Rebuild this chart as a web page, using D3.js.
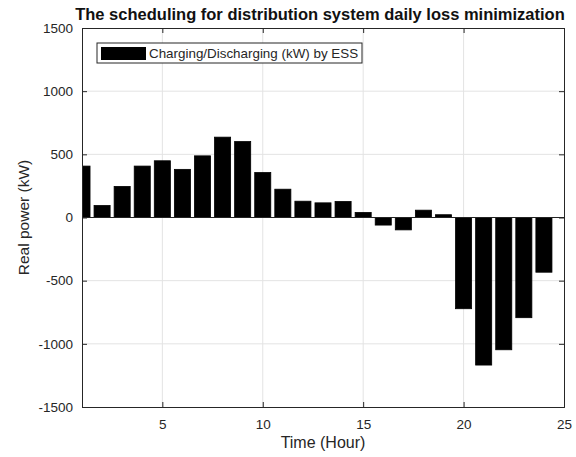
<!DOCTYPE html>
<html>
<head>
<meta charset="utf-8">
<script src="https://cdn.jsdelivr.net/npm/d3@7"></script>
<style>
  body { margin: 0; background: #fff; }
  text { font-family: "Liberation Sans", Arial, sans-serif; }
</style>
</head>
<body>
<script>
// hourly ESS schedule (kW)
var hours = d3.range(1, 25);
var power = [407, 95, 246, 407, 449, 381, 488, 636, 601, 356, 224, 129,
             116, 127, 40, -60, -98, 58, 22, -722, -1168, -1047, -793, -433];
var xTicks = [5, 10, 15, 20, 25];
var yTicks = [-1500, -1000, -500, 0, 500, 1000, 1500];

var w = 576, h = 457;
var margin = {left: 82, right: 12, top: 28, bottom: 50};

var svg = d3.select("body").append("svg")
    .attr("width", w)
    .attr("height", h);

var x = d3.scaleLinear().domain([1, 25]).range([margin.left, w - margin.right]);
var y = d3.scaleLinear().domain([-1500, 1500]).range([h - margin.bottom, margin.top]);

// clip so the first bar is cut at the left edge
svg.append("clipPath").attr("id", "plotClip")
    .append("rect")
    .attr("x", x(1)).attr("y", y(1500))
    .attr("width", x(25) - x(1)).attr("height", y(-1500) - y(1500));

// grid
var grid = svg.append("g").attr("class", "grid");
grid.selectAll(".vgrid").data(xTicks.slice(0, -1)).enter().append("line")
    .attr("x1", function(d){ return x(d); })
    .attr("x2", function(d){ return x(d); })
    .attr("y1", y(1500)).attr("y2", y(-1500))
    .style("stroke", "#e3e3e3");
grid.selectAll(".hgrid").data(yTicks.slice(1, -1)).enter().append("line")
    .attr("y1", function(d){ return y(d); })
    .attr("y2", function(d){ return y(d); })
    .attr("x1", x(1)).attr("x2", x(25))
    .style("stroke", "#e3e3e3");

// bars
var barW = 0.8;
svg.append("g").attr("clip-path", "url(#plotClip)")
    .selectAll(".bar").data(hours).enter().append("rect")
    .attr("class", "bar")
    .attr("x", function(d){ return x(d - barW / 2); })
    .attr("width", x(1 + barW) - x(1))
    .attr("y", function(d, i){ return y(Math.max(0, power[i])); })
    .attr("height", function(d, i){ return Math.abs(y(power[i]) - y(0)); })
    .style("fill", "#000")
    .style("stroke", "#000")
    .style("stroke-width", 0.8);

// baseline
svg.append("line")
    .attr("x1", x(1)).attr("x2", x(25))
    .attr("y1", y(0)).attr("y2", y(0))
    .style("stroke", "#222");

// axes (ticks pointing inward, box on all sides)
var axisColor = "#262626";
var plain = function(d){ return String(d); };
var axBottom = svg.append("g")
    .attr("transform", "translate(0," + y(-1500) + ")")
    .call(d3.axisBottom(x).tickValues(xTicks).tickSize(-5).tickPadding(12).tickFormat(plain));
var axTop = svg.append("g")
    .attr("transform", "translate(0," + y(1500) + ")")
    .call(d3.axisTop(x).tickValues(xTicks).tickSize(-5).tickFormat(""));
var axLeft = svg.append("g")
    .attr("transform", "translate(" + x(1) + ",0)")
    .call(d3.axisLeft(y).tickValues(yTicks).tickSize(-5).tickPadding(9).tickFormat(plain));
var axRight = svg.append("g")
    .attr("transform", "translate(" + x(25) + ",0)")
    .call(d3.axisRight(y).tickValues(yTicks).tickSize(-5).tickFormat(""));

[axBottom, axTop, axLeft, axRight].forEach(function(g){
    g.selectAll("path").style("stroke", axisColor);
    g.selectAll("line").style("stroke", axisColor);
    g.selectAll("text")
        .style("fill", "#262626")
        .style("font-size", "13.5px")
        .style("font-family", "'Liberation Sans', Arial, sans-serif");
});

// title
svg.append("text")
    .attr("x", 320)
    .attr("y", 20)
    .attr("text-anchor", "middle")
    .style("font-weight", "bold")
    .style("font-size", "16.5px")
    .style("fill", "#111")
    .text("The scheduling for distribution system daily loss minimization");

// axis labels
svg.append("text")
    .attr("x", (x(1) + x(25)) / 2)
    .attr("y", 448)
    .attr("text-anchor", "middle")
    .style("font-size", "16px")
    .style("fill", "#262626")
    .text("Time (Hour)");

svg.append("text")
    .attr("transform", "translate(29," + y(0) + ") rotate(-90)")
    .attr("text-anchor", "middle")
    .style("font-size", "15.5px")
    .style("fill", "#262626")
    .text("Real power (kW)");

// legend
var legend = svg.append("g").attr("class", "legend");
legend.append("rect")
    .attr("x", 97).attr("y", 43)
    .attr("width", 265).attr("height", 20)
    .style("fill", "#fff")
    .style("stroke", "#262626");
legend.append("rect")
    .attr("x", 101).attr("y", 47)
    .attr("width", 45).attr("height", 13)
    .style("fill", "#000");
legend.append("text")
    .attr("x", 149).attr("y", 58)
    .style("font-size", "13.4px")
    .style("fill", "#262626")
    .text("Charging/Discharging (kW) by ESS");
</script>
</body>
</html>
